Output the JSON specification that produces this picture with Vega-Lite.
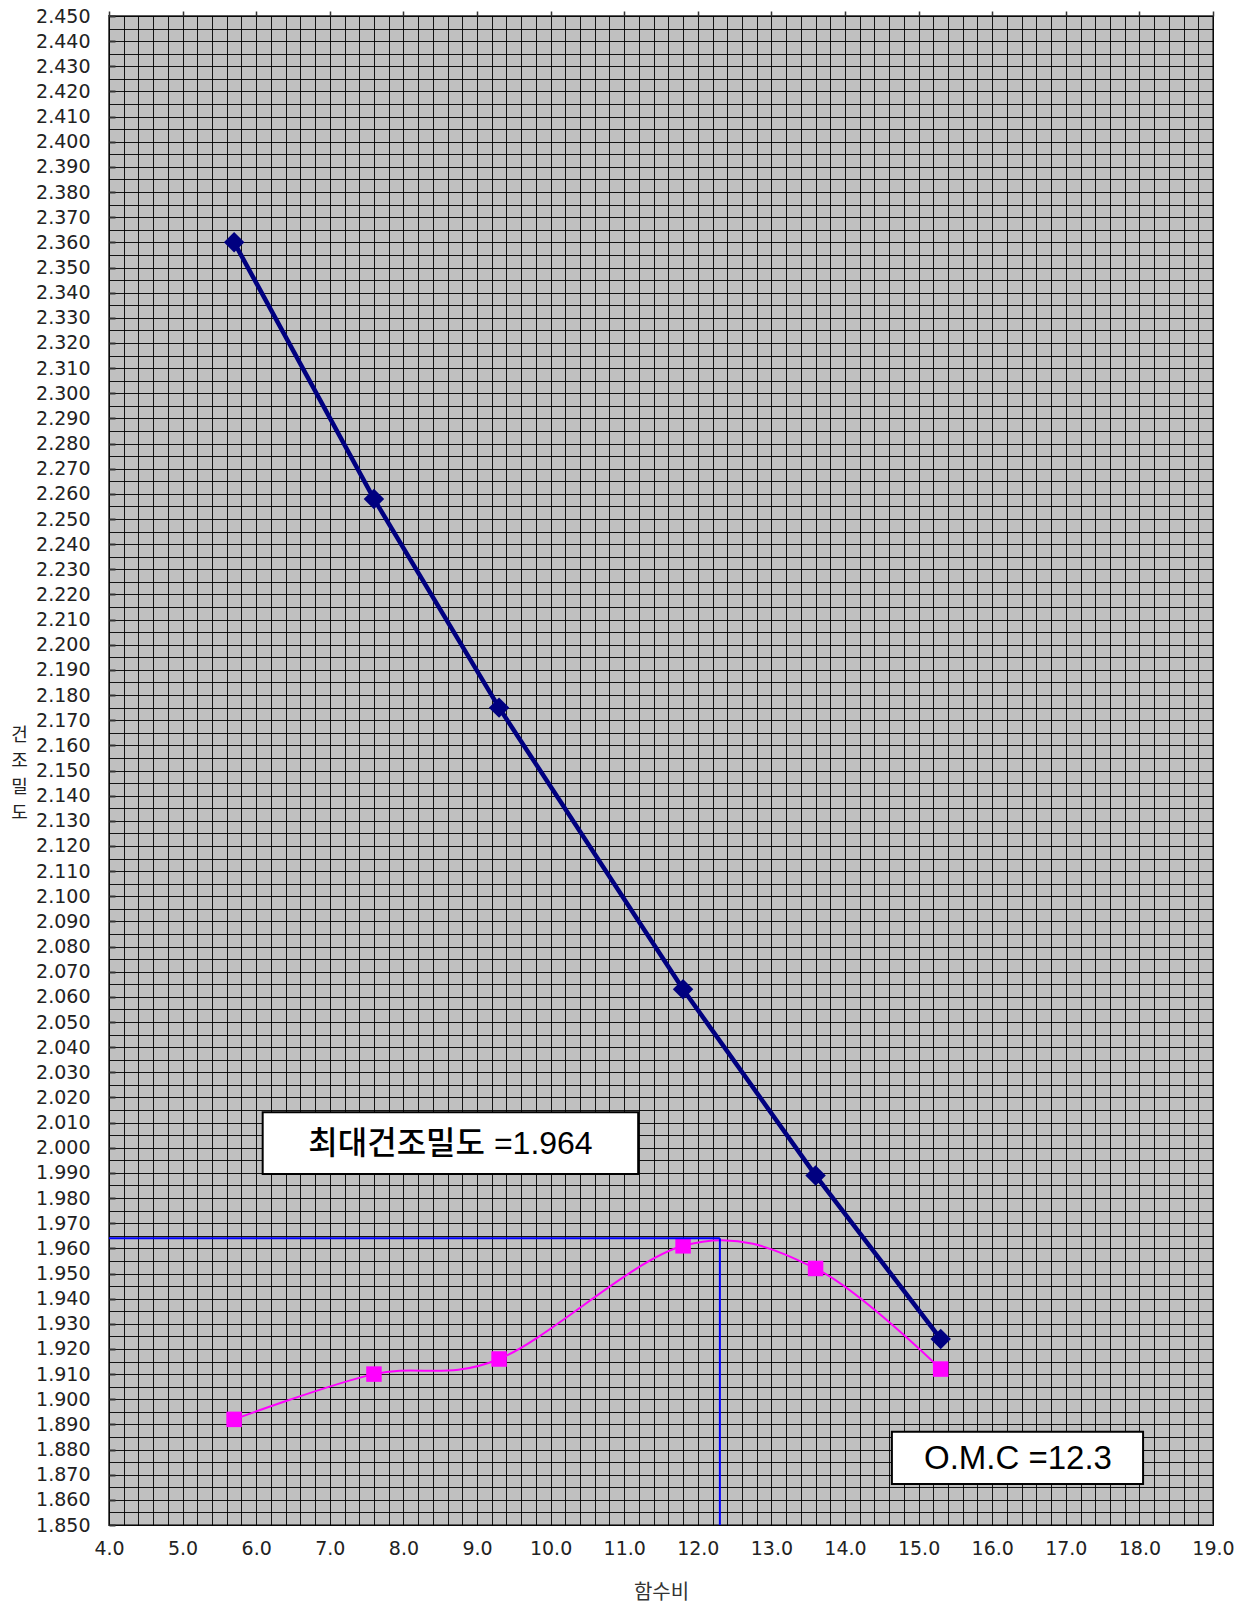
{
  "$schema": "https://vega.github.io/schema/vega-lite/v6.json",
  "autosize": {"type": "none"},
  "width": 1104,
  "height": 1509,
  "padding": {"left": 109, "top": 16, "right": 35, "bottom": 81},
  "background": "#ffffff",
  "config": {
    "font": "DejaVu Sans, Noto Sans CJK KR, sans-serif",
    "view": {"fill": "#c0c0c0", "stroke": "#5a5a5a", "strokeWidth": 2}
  },
  "resolve": {"axis": {"x": "independent"}},
  "datasets": {
    "compaction": [
      {"w": 5.7, "zav": 2.360, "rho": 1.892},
      {"w": 7.6, "zav": 2.258, "rho": 1.910},
      {"w": 9.3, "zav": 2.175, "rho": 1.916},
      {"w": 11.8, "zav": 2.063, "rho": 1.961},
      {"w": 13.6, "zav": 1.989, "rho": 1.952},
      {"w": 15.3, "zav": 1.924, "rho": 1.912}
    ],
    "peak": [
      {"omc": 12.3, "mdd": 1.964}
    ]
  },
  "layer": [
    {
      "data": {"name": "compaction"},
      "mark": {"type": "line", "color": "#000080", "strokeWidth": 4.5},
      "encoding": {
        "x": {
          "field": "w", "type": "quantitative",
          "scale": {"domain": [4, 19], "nice": false, "zero": false},
          "axis": {
            "orient": "bottom",
            "title": "함수비",
            "tickCount": 75,
            "labelOverlap": false,
            "labelFlush": false,
            "labelExpr": "round(datum.value * 10) % 10 == 0 ? format(datum.value, '.1f') : ''",
            "labelFont": "DejaVu Sans",
            "labelFontSize": 19,
            "labelColor": "#222222",
            "labelPadding": 14,
            "ticks": false,
            "domain": false,
            "grid": true,
            "gridColor": "#000000",
            "gridWidth": 1,
            "gridOpacity": 0.9,
            "titleFont": "Noto Sans CJK KR",
            "titleFontSize": 20,
            "titleFontWeight": "normal",
            "titleColor": "#333333",
            "titleBaseline": "middle",
            "titleY": 67
          }
        },
        "y": {
          "field": "zav", "type": "quantitative",
          "scale": {"domain": [1.85, 2.45], "nice": false, "zero": false},
          "axis": {
            "title": ["건", "조", "밀", "도"],
            "tickCount": 120,
            "labelOverlap": false,
            "labelFlush": false,
            "labelExpr": "round(datum.value * 1000) % 10 == 0 ? format(datum.value, '.3f') : ''",
            "labelFont": "DejaVu Sans",
            "labelFontSize": 19,
            "labelColor": "#222222",
            "labelPadding": 25,
            "ticks": true,
            "tickSize": -6,
            "tickWidth": 2,
            "tickColor": "#333333",
            "tickOpacity": {"condition": {"test": "round(datum.value * 1000) % 10 == 0", "value": 1}, "value": 0},
            "domain": false,
            "grid": true,
            "gridColor": "#000000",
            "gridWidth": 1,
            "gridOpacity": 0.9,
            "titleFont": "Noto Sans CJK KR",
            "titleAngle": 0,
            "titleAlign": "center",
            "titleBaseline": "middle",
            "titleFontSize": 18,
            "titleFontWeight": "normal",
            "titleColor": "#222222",
            "titleLineHeight": 26,
            "titleX": -90,
            "titleY": 719
          }
        }
      }
    },
    {
      "data": {"name": "compaction"},
      "mark": {"type": "point", "shape": "diamond", "filled": true, "color": "#000080", "size": 420, "opacity": 1},
      "encoding": {
        "x": {
          "field": "w", "type": "quantitative",
          "axis": {
            "orient": "top",
            "title": null,
            "tickCount": 15,
            "labels": false,
            "grid": false,
            "domain": false,
            "ticks": true,
            "tickSize": 5,
            "tickWidth": 1.5,
            "tickColor": "#333333"
          }
        },
        "y": {"field": "zav", "type": "quantitative"}
      }
    },
    {
      "data": {"name": "compaction"},
      "mark": {"type": "line", "color": "#ff00ff", "strokeWidth": 2, "interpolate": "cardinal", "tension": 0},
      "encoding": {
        "x": {"field": "w", "type": "quantitative", "axis": null},
        "y": {"field": "rho", "type": "quantitative"}
      }
    },
    {
      "data": {"name": "compaction"},
      "mark": {"type": "point", "shape": "square", "filled": true, "color": "#ff00ff", "size": 240, "opacity": 1},
      "encoding": {
        "x": {"field": "w", "type": "quantitative", "axis": null},
        "y": {"field": "rho", "type": "quantitative"}
      }
    },
    {
      "data": {"name": "peak"},
      "mark": {"type": "rule", "color": "#0000ff", "strokeWidth": 2},
      "encoding": {
        "x": {"field": "omc", "type": "quantitative", "axis": null},
        "x2": {"datum": 4},
        "y": {"field": "mdd", "type": "quantitative"}
      }
    },
    {
      "data": {"name": "peak"},
      "mark": {"type": "rule", "color": "#0000ff", "strokeWidth": 2},
      "encoding": {
        "x": {"field": "omc", "type": "quantitative", "axis": null},
        "y": {"field": "mdd", "type": "quantitative"},
        "y2": {"datum": 1.85}
      }
    },
    {
      "data": {"name": "peak"},
      "mark": {"type": "rect", "fill": "#ffffff", "stroke": "#000000", "strokeWidth": 2},
      "encoding": {
        "x": {"datum": 6.088, "type": "quantitative", "axis": null},
        "x2": {"datum": 11.19},
        "y": {"datum": 2.0141, "type": "quantitative"},
        "y2": {"datum": 1.9896}
      }
    },
    {
      "data": {"name": "peak"},
      "mark": {"type": "text", "text": "최대건조밀도 =1.964", "fontSize": 32, "fontWeight": 500, "color": "#000000", "align": "center", "baseline": "middle", "font": "Liberation Sans, Noto Sans CJK KR, sans-serif"},
      "encoding": {
        "x": {"datum": 8.64, "type": "quantitative", "axis": null},
        "y": {"datum": 2.0016, "type": "quantitative"}
      }
    },
    {
      "data": {"name": "peak"},
      "mark": {"type": "rect", "fill": "#ffffff", "stroke": "#000000", "strokeWidth": 2},
      "encoding": {
        "x": {"datum": 14.637, "type": "quantitative", "axis": null},
        "x2": {"datum": 18.05},
        "y": {"datum": 1.8871, "type": "quantitative"},
        "y2": {"datum": 1.8663}
      }
    },
    {
      "data": {"name": "peak"},
      "mark": {"type": "text", "text": "O.M.C =12.3", "fontSize": 33, "color": "#000000", "align": "center", "baseline": "middle", "font": "Liberation Sans, sans-serif"},
      "encoding": {
        "x": {"datum": 16.35, "type": "quantitative", "axis": null},
        "y": {"datum": 1.8764, "type": "quantitative"}
      }
    }
  ]
}
